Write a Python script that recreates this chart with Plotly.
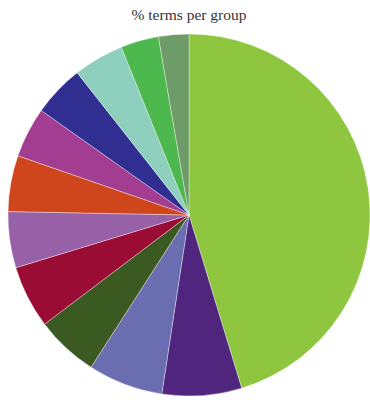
import plotly.graph_objects as go

# Share of terms in each group, listed clockwise from 12 o'clock
groups = ["Group 1", "Group 2", "Group 3", "Group 4", "Group 5", "Group 6",
          "Group 7", "Group 8", "Group 9", "Group 10", "Group 11", "Group 12"]
shares = [45.3, 7.1, 6.7, 5.6, 5.6, 5.0, 5.0, 4.5, 4.6, 4.5, 3.4, 2.7]
colors = ["#8EC63F", "#4F257D", "#6A6DB0", "#3A5A22", "#9A0C33", "#9860A6",
          "#D0461C", "#A33D92", "#302F91", "#8ECFBE", "#4DB84D", "#6E9C68"]

fig = go.Figure(go.Pie(
    labels=groups,
    values=shares,
    sort=False,
    direction="clockwise",
    rotation=0,
    textinfo="none",
    marker=dict(colors=colors, line=dict(color="rgba(255,255,255,0.6)", width=0.6)),
    showlegend=False,
))

fig.update_layout(
    width=370,
    height=400,
    margin=dict(l=8, r=0, t=34, b=4),
    paper_bgcolor="white",
    plot_bgcolor="white",
    title=dict(
        text="% terms per group",
        x=189 / 370, xref="container", xanchor="center",
        y=1 - 15 / 400, yref="container", yanchor="middle",
        font=dict(family="Liberation Serif, DejaVu Serif, serif", size=15.5, color="#333333"),
    ),
)

fig.write_html("out.html")
